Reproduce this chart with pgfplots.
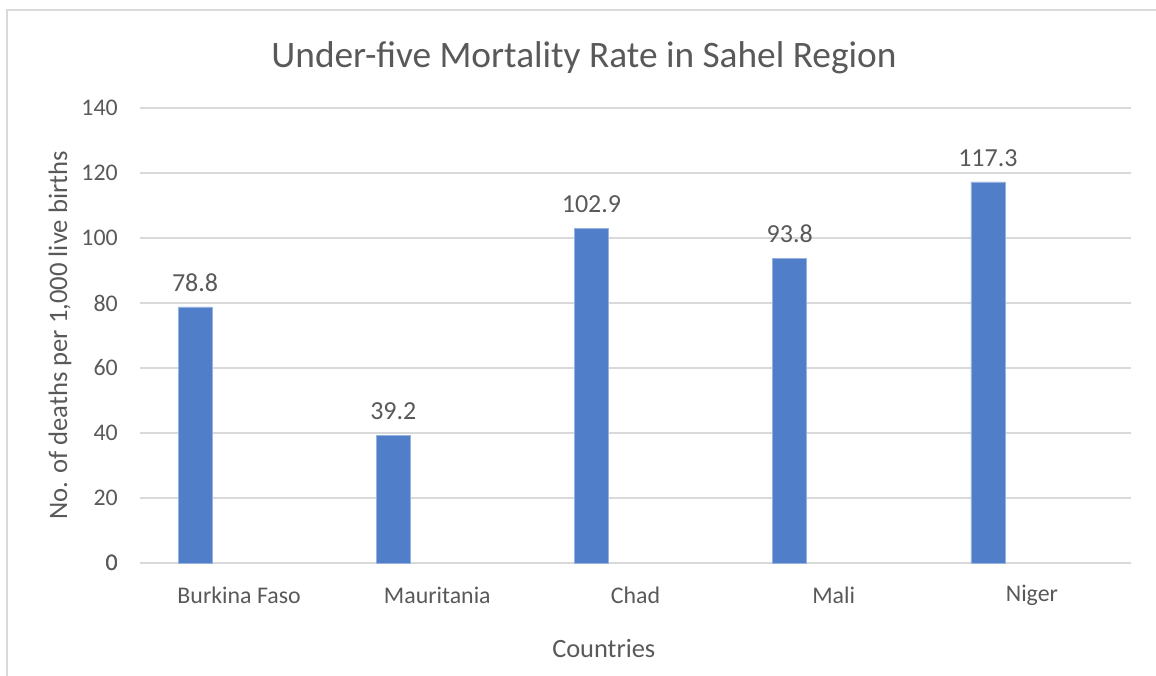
\documentclass[border=0pt]{standalone}
\usepackage{pgfplots}
\pgfplotsset{compat=1.18}
\usepackage{fontspec}
\setmainfont{Carlito}
\definecolor{barblue}{RGB}{80,126,201}
\definecolor{txtgray}{RGB}{89,89,89}
\definecolor{gridgray}{RGB}{217,217,217}
\begin{document}
\begin{tikzpicture}
\begin{axis}[
    at={(0pt,0pt)}, anchor=south west,
    scale only axis, width=743.25pt, height=341.25pt,
    ymin=0, ymax=140, ytick={0,20,...,140},
    xmin=-0.5, xmax=4.5, xtick={0,1,2,3,4},
    xticklabels={Burkina Faso,Mauritania,Chad,Mali,Niger},
    axis line style={draw=none}, axis x line*=bottom,
    major tick length=0pt, tick style={draw=none},
    ymajorgrids, grid style={gridgray, line width=1.2pt},
    extra y ticks={0}, extra y tick style={grid style={gridgray,line width=1.5pt}},
    /pgf/number format/assume math mode=true,
    ticklabel style={font=\fontsize{17.9}{20}\selectfont, text=txtgray, inner sep=0pt},
    xticklabel style={anchor=center, yshift=-24pt},
    yticklabel style={anchor=east, xshift=-16.5pt},
    title={Under-five Mortality Rate in Sahel Region},
    title style={at={(axis description cs:0.448,1.0925)}, anchor=center,
                 font=\fontsize{28}{32}\selectfont, text=txtgray},
    xlabel={Countries},
    xlabel style={at={(axis description cs:0.468,-0.187)}, anchor=center,
                  font=\fontsize{19.8}{22}\selectfont, text=txtgray},
    ylabel={No. of deaths per 1,000 live births},
    ylabel style={at={(axis description cs:-0.0807,0.5)}, anchor=center,
                  font=\fontsize{20}{22}\selectfont, text=txtgray},
    ybar, bar width=25.5pt, bar shift=-33pt,
    nodes near coords,
    nodes near coords style={anchor=center, yshift=18pt, text=txtgray,
        font=\fontsize{19.5}{22}\selectfont,
        /pgf/number format/.cd, fixed, precision=1, zerofill},
  ]
\addplot[fill=barblue, draw=barblue!60!white] coordinates {(0,78.8) (1,39.2) (2,102.9) (3,93.8) (4,117.3)};
\end{axis}
\draw[gridgray, line width=1.5pt] (-99.75pt,-90pt) -- (-99.75pt,414.75pt) -- (770pt,414.75pt);
\pgfresetboundingbox
\useasboundingbox (-105pt,-84pt) rectangle (762pt,422.25pt);
\end{tikzpicture}
\end{document}
